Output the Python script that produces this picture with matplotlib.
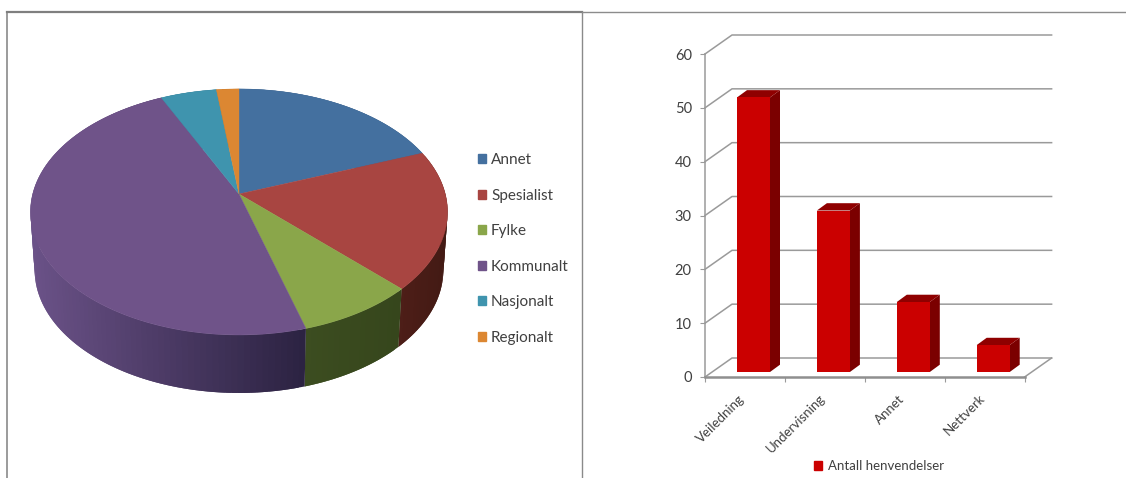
import numpy as np
import matplotlib
matplotlib.use('Agg')
import matplotlib.pyplot as plt
from matplotlib.patches import Patch
from matplotlib.colors import to_rgb

# Kakediagram (prosent)
pie_labels = ['Annet', 'Spesialist', 'Fylke', 'Kommunalt', 'Nasjonalt', 'Regionalt']
pie_values = [19.2, 18.3, 8.0, 47.5, 5, 2]
pie_colors = ['#44709f', '#a84541', '#8aa64a', '#6f5389', '#3f94ae', '#dc8732']
# kantfarge venstre -> høyre i hvert stykke
side_left = ['#3a5a80', '#4e1e18', '#3c4d20', '#6b5288', '#2f7088', '#a86420']
side_right = ['#3a5a80', '#431a14', '#36461c', '#2c2342', '#2f7088', '#a86420']

# Stolpediagram
bar_labels = ['Veiledning', 'Undervisning', 'Annet', 'Nettverk']
bar_values = [51, 30, 13, 5]
bar_legend = 'Antall henvendelser'
y_ticks = [0, 10, 20, 30, 40, 50, 60]

W, H = 1126, 478
plt.rcParams['font.family'] = ['Lato', 'DejaVu Sans']
fig = plt.figure(figsize=(W / 100, H / 100), dpi=100, facecolor='white')

# bakgrunn i piksler: ramme og kake
ax = fig.add_axes([0, 0, 1, 1])
ax.set_xlim(0, W)
ax.set_ylim(H, 0)
ax.axis('off')
ax.plot([7, 7], [12, H], color='#8a8a8a', lw=1.2)
ax.plot([582, 582], [12, H], color='#8a8a8a', lw=1.0)
ax.plot([7, 582], [12, 12], color='#7f7f7f', lw=1.6)
ax.plot([582, W], [12, 12], color='#8c8c8c', lw=1.0)


def project(theta, lower=False):
    # perspektiv: sirkel -> skjerm, theta med klokka fra nord
    u, v = np.sin(theta), np.cos(theta)
    s = 1 / (1 + 0.146 * v)
    x = 206.3 * u * s
    y = -120.4 * v * s
    if lower:
        return 239 + x * 0.98, 194 + y + 58
    return 239 + x, 194 + y


edges = np.cumsum([0] + pie_values) / sum(pie_values) * 2 * np.pi

# siden først, toppen dekker resten
for i in range(len(pie_values)):
    n = max(int((edges[i + 1] - edges[i]) / np.radians(1.5)), 2)
    th = np.linspace(edges[i], edges[i + 1], n + 1)
    xs = project(th)[0]
    c0, c1 = np.array(to_rgb(side_left[i])), np.array(to_rgb(side_right[i]))
    for j in range(n):
        # litt overlapp så det ikke blir striper mellom bitene
        t = np.array([th[j], th[min(j + 2, n)]])
        xt, yt = project(t)
        xb, yb = project(t, lower=True)
        f = (xs[j] - xs.min()) / max(xs.max() - xs.min(), 1)
        col = c0 + (c1 - c0) * f
        ax.fill([xt[0], xt[1], xb[1], xb[0]], [yt[0], yt[1], yb[1], yb[0]],
                color=col, lw=0, zorder=2)

for i in range(len(pie_values)):
    th = np.linspace(edges[i], edges[i + 1], 120)
    x, y = project(th)
    ax.fill(np.r_[239, x], np.r_[194, y], color=pie_colors[i], lw=0.3, zorder=3)

handles = [Patch(color=c, label=l) for c, l in zip(pie_colors, pie_labels)]
leg = ax.legend(handles=handles, loc='upper left', bbox_to_anchor=(478 / W, 1 - 153 / H),
                frameon=False, labelspacing=1.41, handlelength=0.55,
                handleheight=0.55, handletextpad=0.3, borderaxespad=0, borderpad=0,
                prop={'size': 11})
for t in leg.get_texts():
    t.set_color('#404040')

# stolpediagram med ekte akser
bx = fig.add_axes([705 / W, (H - 377) / H, 319.6 / W, 323 / H])
bx.patch.set_alpha(0)
bx.set_xlim(0, 4)
bx.set_ylim(0, 60)
px_x = 4 / 319.6
px_y = 60 / 323
gray = '#9a9a9a'

wall_x, wall_y = 27 * px_x, 19 * px_y
for v in y_ticks:
    bx.plot([0, wall_x, 4 + wall_x], [v, v + wall_y, v + wall_y], color=gray, lw=1.1,
            clip_on=False, zorder=1)
bx.plot([4, 4 + wall_x], [0, wall_y], color=gray, lw=1.1, clip_on=False, zorder=1)

base_y = 5 * px_y
depth_x, depth_y = 10 * px_x, 7.3 * px_y
centers = np.arange(len(bar_values)) + 0.607
width = 33 * px_x
for xc, v in zip(centers, bar_values):
    l, r = xc - width / 2, xc + width / 2
    top = base_y + v
    bx.fill([r, r + depth_x, r + depth_x, r],
            [base_y, base_y + depth_y, top + depth_y, top],
            color='#7b0000', lw=0, zorder=3, clip_on=False)
    bx.fill([l, r, r + depth_x, l + depth_x],
            [top, top, top + depth_y, top + depth_y],
            color='#8f0000', lw=0, zorder=3, clip_on=False)
bx.bar(centers, bar_values, width=width, bottom=base_y, color='#cb0000', zorder=4)

for s in ['top', 'right']:
    bx.spines[s].set_visible(False)
bx.spines['left'].set_color(gray)
bx.spines['left'].set_linewidth(1.1)
bx.spines['bottom'].set_color('#8f8f8f')
bx.spines['bottom'].set_linewidth(1.8)
bx.set_yticks(y_ticks)
bx.set_xticks(np.arange(5))
bx.set_xticklabels([])
bx.set_xticks(np.arange(4) + 0.42, labels=bar_labels, minor=True, rotation=45, ha='right',
              rotation_mode='anchor')
bx.tick_params(axis='y', length=3.5, color=gray, labelsize=10.5, labelcolor='#404040', pad=6)
bx.tick_params(axis='x', which='major', length=3.5, color=gray)
bx.tick_params(axis='x', which='minor', length=0, labelsize=9.5, labelcolor='#404040', pad=11)

leg2 = fig.legend(handles=[Patch(color='#cb0000', label=bar_legend)], loc='center',
                  bbox_to_anchor=(879 / W, 1 - 466 / H), frameon=False, fontsize=9.5,
                  handlelength=0.62, handleheight=0.62, handletextpad=0.4)
leg2.get_texts()[0].set_color('#404040')

fig.savefig('out.png', dpi=100)
